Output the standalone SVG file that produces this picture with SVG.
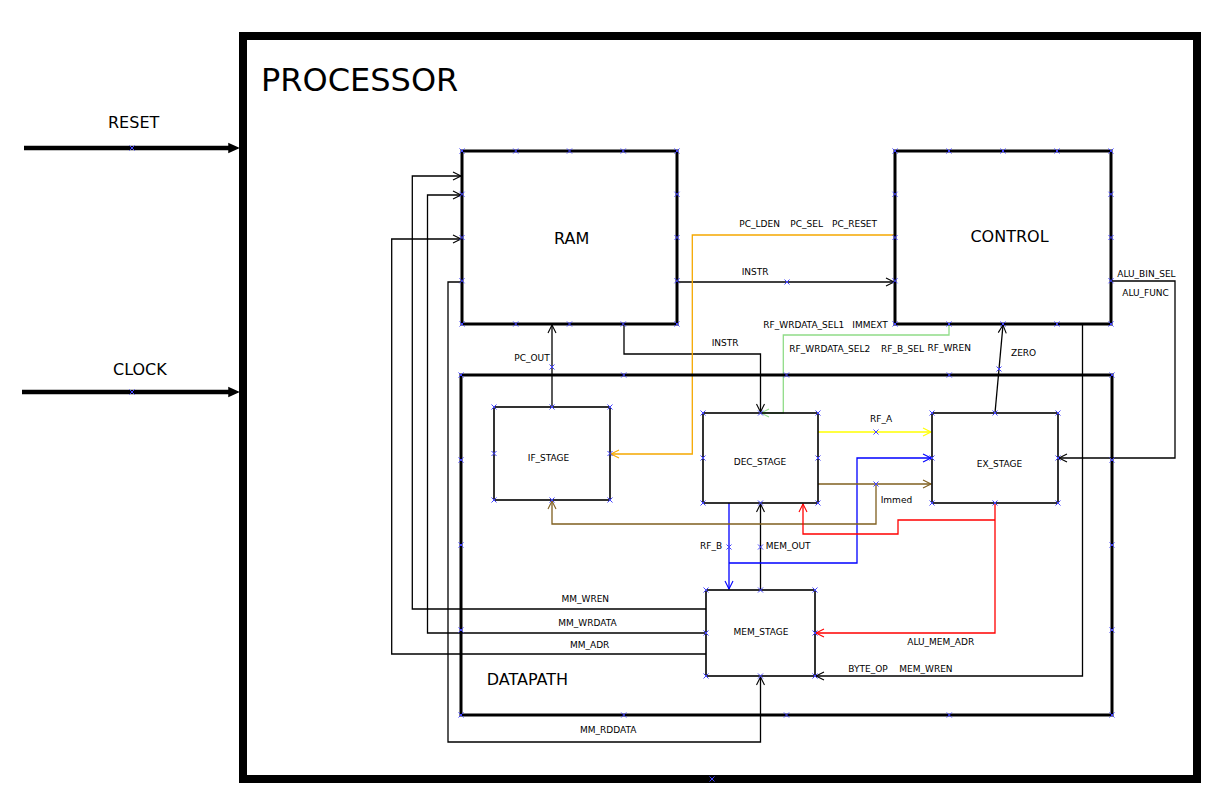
<svg xmlns="http://www.w3.org/2000/svg" xmlns:xlink="http://www.w3.org/1999/xlink" width="1230" height="807" viewBox="0 0 1230 807">
<style>
text{font-family:"DejaVu Sans","Liberation Sans",sans-serif;fill:#000}
.big{font-size:32px}
.mid{font-size:16px}
.sm{font-size:9px}
.c{text-anchor:middle}
.thick{fill:none;stroke:#000;stroke-width:3}
.box{fill:none;stroke:#000;stroke-width:1.6}
.w{fill:none;stroke-width:1.3;stroke-linejoin:miter}
.k{stroke:#000}
.o{stroke:#f5a800}
.g{stroke:#90dc88}
.y{stroke:#ffff00}
.b{stroke:#0000ff}
.br{stroke:#7f5f1f}
.r{stroke:#ff0000}
</style>
<defs>
<path id="x" d="M-2.5,-2.5L2.5,2.5M-2.5,2.5L2.5,-2.5" stroke="#4444ff" stroke-width="1" fill="none"/>
<marker id="ak" markerUnits="userSpaceOnUse" markerWidth="10" markerHeight="10" refX="8" refY="4" orient="auto" overflow="visible"><path d="M0,0L8,4L0,8" fill="none" stroke="#000" stroke-width="1.1"/></marker>
<marker id="ao" markerUnits="userSpaceOnUse" markerWidth="10" markerHeight="10" refX="8" refY="4" orient="auto" overflow="visible"><path d="M0,0L8,4L0,8" fill="none" stroke="#f5a800" stroke-width="1.1"/></marker>
<marker id="ag" markerUnits="userSpaceOnUse" markerWidth="10" markerHeight="10" refX="8" refY="4" orient="auto" overflow="visible"><path d="M0,0L8,4L0,8" fill="none" stroke="#90dc88" stroke-width="1.1"/></marker>
<marker id="ay" markerUnits="userSpaceOnUse" markerWidth="10" markerHeight="10" refX="8" refY="4" orient="auto" overflow="visible"><path d="M0,0L8,4L0,8" fill="none" stroke="#ffff00" stroke-width="1.1"/></marker>
<marker id="ab" markerUnits="userSpaceOnUse" markerWidth="10" markerHeight="10" refX="8" refY="4" orient="auto" overflow="visible"><path d="M0,0L8,4L0,8" fill="none" stroke="#0000ff" stroke-width="1.1"/></marker>
<marker id="abr" markerUnits="userSpaceOnUse" markerWidth="10" markerHeight="10" refX="8" refY="4" orient="auto" overflow="visible"><path d="M0,0L8,4L0,8" fill="none" stroke="#7f5f1f" stroke-width="1.1"/></marker>
<marker id="ar" markerUnits="userSpaceOnUse" markerWidth="10" markerHeight="10" refX="8" refY="4" orient="auto" overflow="visible"><path d="M0,0L8,4L0,8" fill="none" stroke="#ff0000" stroke-width="1.1"/></marker>
</defs>
<rect width="1230" height="807" fill="#fff"/>

<g id="processor">
<rect x="243" y="36" width="954" height="743" fill="none" stroke="#000" stroke-width="8"/>
<text class="big" x="261" y="91">PROCESSOR</text>
<use href="#x" x="712" y="779"/>
</g>

<g id="reset">
<path d="M24,148H232" stroke="#000" stroke-width="4.5"/>
<polygon points="229,144 238,148 229,152" fill="#000" stroke="#000" stroke-width="1.5"/>
<text class="mid" x="108" y="128">RESET</text>
<use href="#x" x="132" y="148"/>
</g>
<g id="clock">
<path d="M22,392H232" stroke="#000" stroke-width="4.5"/>
<polygon points="229,388 238,392 229,396" fill="#000" stroke="#000" stroke-width="1.5"/>
<text class="mid" x="113" y="375">CLOCK</text>
<use href="#x" x="132" y="392"/>
</g>

<g id="connectors">
<path class="w k" d="M706,609H412.3V176H461" marker-end="url(#ak)"/>
<path class="w k" d="M706,633H427.5V195H461" marker-end="url(#ak)"/>
<path class="w k" d="M706,654H391.7V239H461" marker-end="url(#ak)"/>
<path class="w k" d="M462,282H448V742H760.5V677" marker-end="url(#ak)"/>
<path class="w k" d="M552,407V325" marker-end="url(#ak)"/>
<path class="w k" d="M677,282H894" marker-end="url(#ak)"/>
<path class="w k" d="M624,324V354H760.5V412" marker-end="url(#ak)"/>
<path class="w k" d="M760.5,590V504" marker-end="url(#ak)"/>
<path class="w k" d="M995,413L1003,325" marker-end="url(#ak)"/>
<path class="w k" d="M1111,281H1175V458H1059" marker-end="url(#ak)"/>
<path class="w k" d="M1082.5,324V676H816" marker-end="url(#ak)"/>
<path class="w o" d="M895,235H692.3V454H611" marker-end="url(#ao)"/>
<path class="w g" d="M949,324V335H783.3V413H761" marker-end="url(#ag)"/>
<path class="w y" d="M818,432H931" marker-end="url(#ay)"/>
<path class="w b" d="M729,503V589" marker-end="url(#ab)"/>
<path class="w b" d="M729,563H857V458H931" marker-end="url(#ab)"/>
<path class="w br" d="M818,484H931" marker-end="url(#abr)"/>
<path class="w br" d="M876,484V524H552V501" marker-end="url(#abr)"/>
<path class="w r" d="M995,503V633H816" marker-end="url(#ar)"/>
<path class="w r" d="M995,520H898V534H803V504" marker-end="url(#ar)"/>
<use href="#x" x="552" y="367"/>
<use href="#x" x="787" y="282"/>
<use href="#x" x="876" y="432"/>
<use href="#x" x="876" y="484"/>
<use href="#x" x="729" y="547"/>
<use href="#x" x="760.5" y="547"/>
<use href="#x" x="999" y="369"/>
<text class="sm" x="739.3" y="226.7">PC_LDEN</text>
<text class="sm" x="790.3" y="226.7">PC_SEL</text>
<text class="sm" x="832" y="226.7">PC_RESET</text>
<text class="sm" x="741.7" y="275">INSTR</text>
<text class="sm" x="763.3" y="328.3">RF_WRDATA_SEL1</text>
<text class="sm" x="852.3" y="328.3">IMMEXT</text>
<text class="sm" x="789.3" y="352.3">RF_WRDATA_SEL2</text>
<text class="sm" x="881" y="352.3">RF_B_SEL</text>
<text class="sm" x="927.5" y="351">RF_WREN</text>
<text class="sm" x="711.7" y="346">INSTR</text>
<text class="sm" x="514.3" y="360.7">PC_OUT</text>
<text class="sm" x="1011" y="355.7">ZERO</text>
<text class="sm" x="1117.3" y="276.7">ALU_BIN_SEL</text>
<text class="sm" x="1122.3" y="295.7">ALU_FUNC</text>
<text class="sm" x="870" y="422.3">RF_A</text>
<text class="sm" x="880.7" y="502.7">Immed</text>
<text class="sm" x="700" y="549.3">RF_B</text>
<text class="sm" x="765.7" y="549.3">MEM_OUT</text>
<text class="sm" x="561.5" y="601.7">MM_WREN</text>
<text class="sm" x="558.3" y="625.7">MM_WRDATA</text>
<text class="sm" x="570" y="648">MM_ADR</text>
<text class="sm" x="580" y="733">MM_RDDATA</text>
<text class="sm" x="907.3" y="645">ALU_MEM_ADR</text>
<text class="sm" x="848.3" y="671.7">BYTE_OP</text>
<text class="sm" x="899.3" y="671.7">MEM_WREN</text>
</g>

<g id="ram">
<rect class="thick" x="462" y="151" width="215" height="173"/>
<text class="mid c" x="571.7" y="244">RAM</text>
<use href="#x" x="462" y="151"/><use href="#x" x="515.75" y="151"/><use href="#x" x="569.5" y="151"/><use href="#x" x="623.25" y="151"/><use href="#x" x="677" y="151"/>
<use href="#x" x="462" y="324"/><use href="#x" x="515.75" y="324"/><use href="#x" x="569.5" y="324"/><use href="#x" x="623.25" y="324"/><use href="#x" x="677" y="324"/>
<use href="#x" x="462" y="194.25"/><use href="#x" x="462" y="237.5"/><use href="#x" x="462" y="280.75"/>
<use href="#x" x="677" y="194.25"/><use href="#x" x="677" y="237.5"/><use href="#x" x="677" y="280.75"/>
</g>

<g id="control">
<rect class="thick" x="895" y="151" width="216" height="173"/>
<text class="mid c" x="1009.5" y="241.7">CONTROL</text>
<use href="#x" x="895" y="151"/><use href="#x" x="949" y="151"/><use href="#x" x="1003" y="151"/><use href="#x" x="1057" y="151"/><use href="#x" x="1111" y="151"/>
<use href="#x" x="895" y="324"/><use href="#x" x="949" y="324"/><use href="#x" x="1003" y="324"/><use href="#x" x="1057" y="324"/><use href="#x" x="1111" y="324"/>
<use href="#x" x="895" y="194.25"/><use href="#x" x="895" y="237.5"/><use href="#x" x="895" y="280.75"/>
<use href="#x" x="1111" y="194.25"/><use href="#x" x="1111" y="237.5"/><use href="#x" x="1111" y="280.75"/>
</g>

<g id="datapath">
<rect class="thick" x="461" y="375" width="651" height="340"/>
<text class="mid" x="486.7" y="685">DATAPATH</text>
<use href="#x" x="461" y="375"/><use href="#x" x="623.75" y="375"/><use href="#x" x="786.5" y="375"/><use href="#x" x="949.25" y="375"/><use href="#x" x="1112" y="375"/>
<use href="#x" x="461" y="715"/><use href="#x" x="623.75" y="715"/><use href="#x" x="786.5" y="715"/><use href="#x" x="949.25" y="715"/><use href="#x" x="1112" y="715"/>
<use href="#x" x="461" y="460"/><use href="#x" x="461" y="545"/><use href="#x" x="461" y="630"/>
<use href="#x" x="1112" y="460"/><use href="#x" x="1112" y="545"/><use href="#x" x="1112" y="630"/>
</g>

<g id="if_stage">
<rect class="box" x="494" y="407" width="116" height="93"/>
<text class="sm c" x="548.5" y="461.3">IF_STAGE</text>
<use href="#x" x="494" y="407"/><use href="#x" x="552" y="407"/><use href="#x" x="610" y="407"/>
<use href="#x" x="494" y="500"/><use href="#x" x="552" y="500"/><use href="#x" x="610" y="500"/>
<use href="#x" x="494" y="453.5"/><use href="#x" x="610" y="453.5"/>
</g>

<g id="dec_stage">
<rect class="box" x="703" y="413" width="115" height="90"/>
<text class="sm c" x="760" y="465">DEC_STAGE</text>
<use href="#x" x="703" y="413"/><use href="#x" x="760.5" y="413"/><use href="#x" x="818" y="413"/>
<use href="#x" x="703" y="503"/><use href="#x" x="760.5" y="503"/><use href="#x" x="818" y="503"/>
<use href="#x" x="703" y="458"/><use href="#x" x="818" y="458"/>
</g>

<g id="ex_stage">
<rect class="box" x="932" y="413" width="126" height="90"/>
<text class="sm c" x="999.5" y="466.7">EX_STAGE</text>
<use href="#x" x="932" y="413"/><use href="#x" x="995" y="413"/><use href="#x" x="1058" y="413"/>
<use href="#x" x="932" y="503"/><use href="#x" x="995" y="503"/><use href="#x" x="1058" y="503"/>
<use href="#x" x="932" y="458"/><use href="#x" x="1058" y="458"/>
</g>

<g id="mem_stage">
<rect class="box" x="706" y="590" width="109" height="86"/>
<text class="sm c" x="761" y="635">MEM_STAGE</text>
<use href="#x" x="706" y="590"/><use href="#x" x="760.5" y="590"/><use href="#x" x="815" y="590"/>
<use href="#x" x="706" y="676"/><use href="#x" x="760.5" y="676"/><use href="#x" x="815" y="676"/>
<use href="#x" x="706" y="633"/><use href="#x" x="815" y="633"/>
</g>
</svg>
